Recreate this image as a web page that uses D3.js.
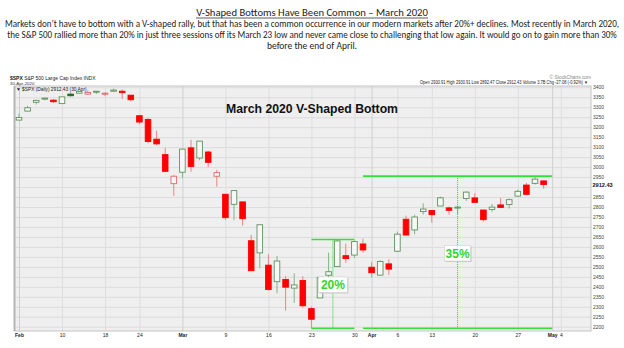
<!DOCTYPE html>
<html><head><meta charset="utf-8">
<script src="https://cdn.jsdelivr.net/npm/d3@7"></script>
<style>html,body{margin:0;padding:0;background:#fff;}svg{display:block}</style>
</head><body>
<svg id="c" width="624" height="348"></svg>
<script>
// ---- DATA (S&P 500 daily, Feb 3 – Apr 30 2020) ----
const dates = ["2020-02-03","2020-02-04","2020-02-05","2020-02-06","2020-02-07","2020-02-10","2020-02-11","2020-02-12","2020-02-13","2020-02-14","2020-02-18","2020-02-19","2020-02-20","2020-02-21","2020-02-24","2020-02-25","2020-02-26","2020-02-27","2020-02-28",
"2020-03-02","2020-03-03","2020-03-04","2020-03-05","2020-03-06","2020-03-09","2020-03-10","2020-03-11","2020-03-12","2020-03-13","2020-03-16","2020-03-17","2020-03-18","2020-03-19","2020-03-20","2020-03-23","2020-03-24","2020-03-25","2020-03-26","2020-03-27","2020-03-30","2020-03-31",
"2020-04-01","2020-04-02","2020-04-03","2020-04-06","2020-04-07","2020-04-08","2020-04-09","2020-04-13","2020-04-14","2020-04-15","2020-04-16","2020-04-17","2020-04-20","2020-04-21","2020-04-22","2020-04-23","2020-04-24","2020-04-27","2020-04-28","2020-04-29","2020-04-30"];
const opens = [3235.66,3280.61,3324.91,3344.92,3335.54,3318.28,3365.87,3370.50,3365.90,3378.08,3369.04,3380.39,3380.45,3360.50,3257.61,3238.94,3139.90,3062.54,2916.90,
2974.28,3096.46,3045.75,3075.70,2954.20,2863.89,2813.48,2825.60,2630.86,2569.99,2508.59,2425.66,2436.50,2393.48,2431.94,2290.71,2344.44,2457.77,2501.29,2555.87,2558.98,2614.69,
2498.08,2458.54,2514.92,2578.28,2738.65,2685.00,2776.99,2782.46,2805.10,2795.64,2799.34,2842.43,2845.62,2784.81,2787.89,2810.42,2812.64,2854.65,2909.96,2918.46,2930.91];
const highs = [3268.44,3306.92,3337.58,3347.96,3341.42,3352.26,3375.63,3381.47,3385.09,3380.69,3375.01,3393.52,3389.15,3360.76,3259.81,3246.99,3182.51,3097.07,2959.72,
3090.96,3136.72,3130.97,3083.04,2985.93,2863.89,2882.59,2825.60,2660.95,2711.33,2562.98,2553.93,2453.57,2466.97,2453.01,2300.73,2449.71,2571.42,2637.01,2615.91,2631.80,2641.39,
2522.75,2533.22,2538.18,2676.85,2756.89,2760.75,2818.57,2782.46,2851.85,2801.88,2806.51,2879.22,2868.98,2785.54,2815.10,2844.90,2842.71,2887.72,2921.15,2954.86,2930.91];
const lows = [3235.66,3280.61,3313.75,3334.39,3322.12,3317.77,3352.72,3369.72,3360.52,3366.15,3355.61,3378.83,3341.02,3328.45,3214.65,3118.77,3108.99,2977.39,2855.84,
2945.19,2976.63,3034.38,2999.83,2901.54,2734.43,2734.00,2707.22,2478.86,2492.37,2380.94,2367.04,2280.52,2319.78,2295.56,2191.86,2344.44,2407.53,2500.72,2520.02,2545.28,2571.15,
2447.49,2455.79,2459.96,2574.57,2657.67,2663.30,2762.36,2721.17,2805.10,2761.54,2764.32,2830.88,2820.43,2727.10,2775.95,2794.26,2791.76,2852.89,2860.71,2912.16,2892.47];
const closes = [3248.92,3297.59,3334.69,3345.78,3327.71,3352.09,3357.75,3379.45,3373.94,3380.16,3370.29,3386.15,3373.23,3337.75,3225.89,3128.21,3116.39,2978.76,2954.22,
3090.23,3003.37,3130.12,3023.94,2972.37,2746.56,2882.23,2741.38,2480.64,2711.02,2386.13,2529.19,2398.10,2409.39,2304.92,2237.40,2447.33,2475.56,2630.07,2541.47,2626.65,2584.59,
2470.50,2526.90,2488.65,2663.68,2659.41,2749.98,2789.82,2761.63,2846.06,2783.36,2799.55,2874.56,2823.16,2736.56,2799.31,2797.80,2836.74,2878.48,2863.39,2939.51,2912.43];
const prevClose = 3225.52; // Jan 31 close
const futureDates = ["2020-05-01","2020-05-04"];
const xTickDates = ["2020-02-03","2020-02-10","2020-02-18","2020-02-24","2020-03-02","2020-03-09","2020-03-16","2020-03-23","2020-03-30","2020-04-01","2020-04-06","2020-04-13","2020-04-20","2020-04-27","2020-05-01","2020-05-04"];
const xTickLabels = ["Feb","10","18","24","Mar","9","16","23","30","Apr","6","13","20","27","May","4"];
const monthTicks = ["Feb","Mar","Apr","May"];
const yTicks = d3.range(2200, 3401, 50);
// annotated rallies
const moveLabels = ["20%","35%"];
const moveStart = ["2020-03-23","2020-03-31"];
const moveEnd = ["2020-03-30","2020-05-01"];
const moveMarker = ["2020-03-25","2020-04-16"];
const moveLow = [2191.86, 2191.86];
const moveHigh = [2637.01, 2954.86];

// ---- LAYOUT ----
const svg = d3.select("#c");
const allDates = dates.concat(futureDates);
const idx = d => allDates.indexOf(d);
const P = {l:14.5, r:591, t:86, b:331};
const x = d3.scaleLinear().domain([0, dates.length-1]).range([19, 543.6]);
const y = d3.scaleLinear().domain([2200, 3400]).range([326.7, 87.3]);
const bodyFont = "Carlito, 'Liberation Sans Narrow', 'Liberation Sans', Arial, sans-serif";
const tiny = "'Liberation Sans', Arial, sans-serif";

// text fitted to a target width by a horizontal scale
function fitText(str, cx, by, size, target, weight) {
  const g = svg.append("g");
  const t = g.append("text").attr("x",0).attr("y",0).attr("text-anchor","middle")
    .attr("font-family",bodyFont).attr("font-size",size).attr("fill","#222")
    .attr("font-weight",weight||"normal").text(str);
  const w = t.node().getComputedTextLength();
  const s = target / w;
  g.attr("transform",`translate(${cx},${by}) scale(${s},1)`);
  return g;
}

// ---- PAGE TEXT ----
fitText("V-Shaped Bottoms Have Been Common – March 2020", 312, 16, 11, 232);
svg.append("line").attr("x1",196).attr("x2",428).attr("y1",18).attr("y2",18).attr("stroke","#333").attr("stroke-width",0.8);
const para = [
 ["Markets don’t have to bottom with a V-shaped rally, but that has been a common occurrence in our modern markets after 20%+ declines. Most recently in March 2020,", 614],
 ["the S&P 500 rallied more than 20% in just three sessions off its March 23 low and never came close to challenging that low again. It would go on to gain more than 30%", 610],
 ["before the end of April.", 90]];
para.forEach((p,i)=> fitText(p[0], 312, 27+i*11, 9.6, p[1]));

// ---- CHART FRAME ----
svg.append("rect").attr("x",P.l).attr("y",P.t).attr("width",P.r-P.l).attr("height",P.b-P.t)
  .attr("fill","#efefef");
const gy = svg.append("g").attr("transform",`translate(${P.l},0)`)
  .call(d3.axisRight(y).tickValues(yTicks).tickSize(P.r-P.l).tickFormat(""));
gy.select(".domain").remove();
gy.selectAll("line").attr("stroke","#dcdcdc").attr("stroke-width",1);
const xi = d3.scaleLinear().domain(x.domain()).range(x.range());
const gx = svg.append("g").attr("transform",`translate(0,${P.t})`)
  .call(d3.axisBottom(xi).tickValues(xTickDates.map(idx)).tickSize(P.b-P.t).tickFormat(""));
gx.select(".domain").remove();
gx.selectAll("line").attr("stroke",(d,i)=>monthTicks.includes(xTickLabels[i])?"#cfcfcf":"#dedede");
svg.append("rect").attr("x",P.l).attr("y",P.t).attr("width",P.r-P.l).attr("height",P.b-P.t)
  .attr("fill","none").attr("stroke","#c4c4c4").attr("stroke-width",1);
svg.append("line").attr("x1",P.l).attr("x2",P.l).attr("y1",P.t).attr("y2",P.b).attr("stroke","#b4b4b4").attr("stroke-width",2);

// y labels (the one under the last-price tag is hidden, as on the source chart)
const lastClose = closes[closes.length-1];
const lastY = y(lastClose);
const ya = svg.append("g").attr("transform",`translate(${P.r},0)`)
  .call(d3.axisRight(y).tickValues(yTicks.filter(v=>Math.abs(y(v)-lastY)>6)).tickSize(0).tickPadding(2).tickFormat(d3.format("d")));
ya.select(".domain").remove();
ya.selectAll("text").attr("font-family",tiny).attr("font-size",5).attr("fill","#444");
// x labels
const xa = svg.append("g").attr("transform",`translate(0,${P.b})`)
  .call(d3.axisBottom(xi).tickValues(xTickDates.map(idx)).tickSize(0).tickPadding(2)
    .tickFormat((d,i)=>xTickLabels[i]));
xa.select(".domain").remove();
xa.selectAll("text").attr("font-family",tiny).attr("font-size",5).attr("fill","#222")
  .attr("font-weight",(d,i)=>monthTicks.includes(xTickLabels[i])?"bold":"normal");

// header texts
const h1 = svg.append("text").attr("x",10).attr("y",80).attr("font-family",tiny).attr("font-size",5).attr("fill","#222");
h1.append("tspan").attr("font-weight","bold").text("$SPX");
h1.append("tspan").text(" S&P 500 Large Cap Index INDX");
svg.append("text").attr("x",10).attr("y",84.6).attr("font-family",tiny).attr("font-size",4.4).attr("fill","#333").text("30-Apr-2020");
svg.append("text").attr("x",16).attr("y",91).attr("font-family",tiny).attr("font-size",4.8).attr("fill","#222")
  .text("▼ $SPX (Daily) 2912.43 (30 Apr)");
svg.append("text").attr("x",588).attr("y",84).attr("text-anchor","end").attr("font-family",tiny).attr("font-size",4.6).attr("fill","#222")
  .attr("textLength",168).attr("lengthAdjust","spacingAndGlyphs")
  .text("Open 2930.91  High 2930.91  Low 2892.47  Close 2912.43  Volume 3.7B  Chg -27.08 (-0.92%) ▼");
svg.append("text").attr("x",591).attr("y",79).attr("text-anchor","end").attr("font-family",tiny).attr("font-size",4.8).attr("fill","#888")
  .text("© StockCharts.com");

// ---- CANDLES ----
const candles = dates.map((d,i)=>({i, o:opens[i], h:highs[i], l:lows[i], c:closes[i],
  pc: i===0?prevClose:closes[i-1]}));
const bw = 5.6;
const cg = svg.append("g");
const col = d => d.c >= d.pc;
cg.selectAll("line.w").data(candles).join("line").attr("class","w")
  .attr("x1",d=>x(d.i)).attr("x2",d=>x(d.i)).attr("y1",d=>y(d.h)).attr("y2",d=>y(d.l))
  .attr("stroke",d=>col(d)?"#86b386":"#e98585").attr("stroke-width",1);
cg.selectAll("rect.b").data(candles).join("rect").attr("class","b")
  .attr("x",d=>x(d.i)-bw/2).attr("width",bw)
  .attr("y",d=>y(Math.max(d.o,d.c)))
  .attr("height",d=>Math.max(1,Math.abs(y(d.o)-y(d.c))))
  .attr("fill",d=> d.c>=d.o ? "#f7f7f7" : (col(d)?"#1c6b1c":"#ff0000"))
  .attr("stroke",d=> d.c>=d.o ? (col(d)?"#5e935e":"#e26a6a") : (col(d)?"#1c6b1c":"#ff0000"))
  .attr("stroke-width",0.9);

// last price label
svg.append("text").attr("x",P.r+1.5).attr("y",lastY).attr("dy","0.35em")
  .attr("font-family",tiny).attr("font-size",5.6).attr("font-weight","bold").attr("fill","#111")
  .text(d3.format(".2f")(lastClose));

// chart title
svg.append("text").attr("x",226).attr("y",113).attr("font-family",tiny).attr("font-size",13)
  .attr("font-weight","bold").attr("fill","#111").attr("textLength",172).attr("lengthAdjust","spacingAndGlyphs")
  .text("March 2020 V-Shaped Bottom");

// ---- ANNOTATIONS ----
const green = "#36e036";
const ag = svg.append("g");
const labelLevel = [2409, 2567];
moveLabels.forEach((lab,k)=>{
  const x0 = x(idx(moveStart[k])), x1 = x(idx(moveEnd[k]));
  const xm = (x(idx(moveMarker[k])) + (k===0 ? x(idx(moveMarker[k])+1) : x(idx(moveMarker[k]))))/2;
  [moveLow[k], moveHigh[k]].forEach(v=>{
    ag.append("line").attr("x1",x0).attr("x2",x1).attr("y1",y(v)).attr("y2",y(v))
      .attr("stroke",green).attr("stroke-width",1.6);
  });
  ag.append("line").attr("x1",xm).attr("x2",xm).attr("y1",y(moveHigh[k])).attr("y2",y(moveLow[k]))
    .attr("stroke","#2fcf2f").attr("stroke-width",1).attr("stroke-dasharray","1,1");
  const cy = y(labelLevel[k]);
  const bwid = k===0 ? 29 : 26;
  ag.append("rect").attr("x",xm-bwid/2+1).attr("y",cy-7).attr("width",bwid).attr("height",15.5).attr("fill","#c8c8c8");
  ag.append("rect").attr("x",xm-bwid/2).attr("y",cy-8).attr("width",bwid).attr("height",15.5)
    .attr("fill","#fff").attr("stroke","#d0d0d0").attr("stroke-width",0.6);
  ag.append("text").attr("x",xm).attr("y",cy+4.3).attr("text-anchor","middle")
    .attr("font-family",tiny).attr("font-size",12).attr("font-weight","bold").attr("fill","#2ed62e")
    .text(lab);
});
</script>
</body></html>
